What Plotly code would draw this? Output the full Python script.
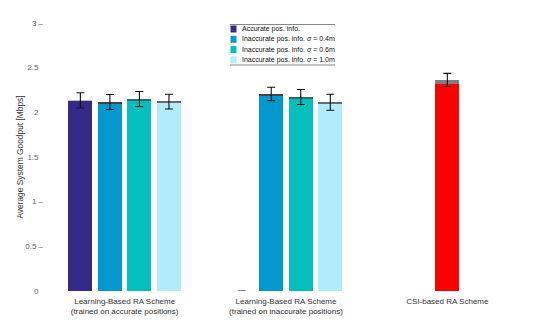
import plotly.graph_objects as go

# ---------------- data ----------------
group_labels = ["Learning-Based RA Scheme<br>(trained on accurate positions)",
                "Learning-Based RA Scheme<br>(trained on inaccurate positions)",
                "CSI-based RA Scheme"]
series_names = ["Accurate pos. info.",
                "Inaccurate pos. info. <i>σ</i> = 0.4m",
                "Inaccurate pos. info. <i>σ</i> = 0.6m",
                "Inaccurate pos. info. <i>σ</i> = 1.0m"]
series_colors = ["#352a87", "#0399cf", "#03bfbd", "#b0ecfc"]

# values per series for group 1 and group 2 (main part, small gray top part, error half-width)
main_g1 = [2.128, 2.100, 2.131, 2.109]
top_g1 = [0.006, 0.016, 0.019, 0.011]
err_g1 = [0.086, 0.084, 0.084, 0.083]

main_g2 = [0.0, 2.190, 2.156, 2.100]
top_g2 = [0.0, 0.016, 0.016, 0.013]
err_g2 = [0.0, 0.075, 0.084, 0.090]

csi_main = [2.318]
csi_top = [0.045]
csi_err = [0.073]
csi_color = "#ff0000"

top_colors = ["#bdbdbd", "#444444", "#2f6b6a", "#6a6a6a"]

y_tickvals = [0, 0.5, 1, 1.5, 2, 2.5, 3]
y_ticktext = ["0\u2007", "0.5 –", "1 –", "1.5\u2007", "2\u2007", "2.5\u2007", "3 –"]

# ---------------- layout params ----------------
group_x = [1, 2, 3]
bar_w = 0.149
step = 0.183
offsets = [-1.5 * step, -0.5 * step, 0.5 * step, 1.5 * step]

fig = go.Figure()
err_x, err_y, err_v = [], [], []

for i in range(4):
    xs = [group_x[0] + offsets[i], group_x[1] + offsets[i]]
    mains = [main_g1[i], main_g2[i]]
    tops = [top_g1[i], top_g2[i]]
    errs = [err_g1[i], err_g2[i]]
    fig.add_trace(go.Bar(x=xs, y=mains, width=bar_w, marker=dict(color=series_colors[i], line=dict(width=0)),
                         name=series_names[i], showlegend=False))
    fig.add_trace(go.Bar(x=xs, y=tops, base=mains, width=bar_w,
                         marker=dict(color=top_colors[i], line=dict(width=0)), showlegend=False))
    for x, m, t, e in zip(xs, mains, tops, errs):
        err_x.append(x); err_y.append(m + t); err_v.append(e)

fig.add_trace(go.Bar(x=[group_x[2]], y=csi_main, width=bar_w,
                     marker=dict(color=csi_color, line=dict(width=0)), showlegend=False))
fig.add_trace(go.Bar(x=[group_x[2]], y=csi_top, base=csi_main, width=bar_w,
                     marker=dict(color="#7f7f7f", line=dict(width=0)), showlegend=False))
err_x.append(group_x[2]); err_y.append(csi_main[0] + csi_top[0]); err_v.append(csi_err[0])

fig.add_trace(go.Scatter(x=err_x, y=err_y, mode="markers",
                         marker=dict(size=1, color="rgba(0,0,0,0)"),
                         error_y=dict(type="data", array=err_v, visible=True,
                                      color="#111111", thickness=1.1, width=4),
                         showlegend=False, hoverinfo="skip"))

# ---------------- custom compact legend ----------------
OFF = 8  # page body margin offset
W, H = 545, 327
L, R, T, B = 44, 17, 23, 36
pw, ph = W - L - R, H - T - B

def px_x(p):
    return (p - L) / pw

def px_y(p):
    return (H - B - p) / ph

shapes = []
annotations = []
leg_x0, leg_x1 = 230, 335
shapes.append(dict(type="line", xref="paper", yref="paper", x0=px_x(leg_x0), x1=px_x(leg_x1),
                   y0=px_y(24.5), y1=px_y(24.5), line=dict(color="#888888", width=1)))
shapes.append(dict(type="line", xref="paper", yref="paper", x0=px_x(leg_x0), x1=px_x(leg_x1),
                   y0=px_y(65), y1=px_y(65), line=dict(color="#888888", width=1)))
for i, (nm, c) in enumerate(zip(series_names, series_colors)):
    cy = 29 + i * 10.3
    shapes.append(dict(type="rect", xref="paper", yref="paper",
                       x0=px_x(230.5), x1=px_x(236.5), y0=px_y(cy + 3.5), y1=px_y(cy - 3.5),
                       fillcolor=c, line=dict(width=0)))
    annotations.append(dict(xref="paper", yref="paper", x=px_x(240), y=px_y(cy),
                            text=nm, showarrow=False, xanchor="left", yanchor="middle",
                            font=dict(family="Liberation Sans, Arial, sans-serif", size=7, color="#111111")))

fig.update_layout(
    width=W - OFF, height=H - OFF,
    margin=dict(l=L - OFF, r=R, t=T - OFF, b=B, autoexpand=False),
    paper_bgcolor="white", plot_bgcolor="white",
    barmode="overlay", bargap=0,
    showlegend=False,
    shapes=shapes, annotations=annotations,
    font=dict(family="Liberation Sans, Arial, sans-serif", size=8, color="#333333"),
    xaxis=dict(range=[0.5, 3.5], tickvals=group_x, ticktext=group_labels,
               showgrid=False, zeroline=False, showline=False, ticks="",
               ticklabelstandoff=4,
               tickfont=dict(size=8, color="#333333")),
    yaxis=dict(range=[0, 3], tickvals=y_tickvals, ticktext=y_ticktext,
               showgrid=False, zeroline=False, showline=False, ticks="",
               tickfont=dict(size=8, color="#666666"),
               title=dict(text="Average System Goodput [Mbps]", standoff=0,
                          font=dict(size=8.4, color="#333333"))),
)

fig.write_html("out.html")
